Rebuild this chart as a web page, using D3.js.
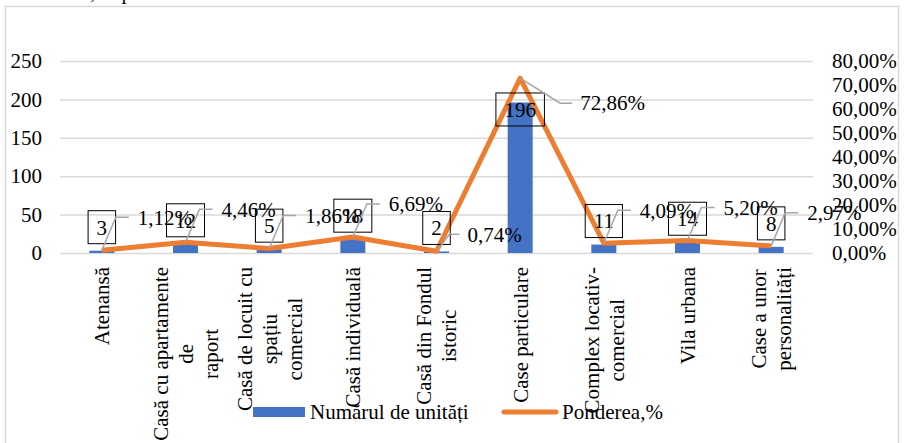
<!DOCTYPE html>
<html>
<head>
<meta charset="utf-8">
<script src="https://cdn.jsdelivr.net/npm/d3@7"></script>
<style>
  html, body { margin: 0; padding: 0; background: #fff; }
  svg { display: block; }
  svg text { font-family: "Liberation Serif", "DejaVu Serif", serif !important; font-size: 21px !important; fill: #000; }
</style>
</head>
<body>
<div id="chart"></div>
<script>
// ******************************** DATA ***************************************
// Category names ("\n" marks the line breaks used on the axis)
var categories = [
  "Atenansă",
  "Casă cu apartamente\nde\nraport",
  "Casă de locuit cu\nspațiu\ncomercial",
  "Casă individuală",
  "Casă din Fondul\nistoric",
  "Case particulare",
  "Complex locativ-\ncomercial",
  "Vila urbana",
  "Case a unor\npersonalități"
];

// Numarul de unitati (bars, left axis)
var unitCounts = [3, 12, 5, 18, 2, 196, 11, 14, 8];

// Ponderea, % (line, right axis)
var shares = [1.12, 4.46, 1.86, 6.69, 0.74, 72.86, 4.09, 5.20, 2.97];

// Tick values
var leftTicks = [0, 50, 100, 150, 200, 250];
var rightTicks = [0, 10, 20, 30, 40, 50, 60, 70, 80];

var seriesNames = ["Numărul de unități", "Ponderea,%"];

// **************************** CANVAS SET UP **********************************
var svgWidth = 904,
    svgHeight = 443;

var plot = {left: 60, right: 813, top: 61, bottom: 253};

var barColor = "#4472C4",
    lineColor = "#ED7D31",
    gridColor = "#D9D9D9",
    leaderColor = "#A6A6A6";

var svg = d3.select("#chart")
  .append("svg")
    .attr("width", svgWidth)
    .attr("height", svgHeight)
    .attr("font-family", "Liberation Serif")
    .attr("font-size", 21);

// Chart frame
svg.append("rect")
  .attr("x", 5.5)
  .attr("y", 6.5)
  .attr("width", 893)
  .attr("height", 460)
  .attr("fill", "none")
  .attr("stroke", gridColor)
  .attr("stroke-width", 1.5);

// Caption cut off above the frame
svg.append("text")
  .attr("x", 90)
  .attr("y", -1)
  .text(", după");

// ******************************** SCALES *************************************
var xScale = d3.scaleBand()
  .domain(d3.range(categories.length))
  .range([plot.left, plot.right]);

var yLeft = d3.scaleLinear()
  .domain([0, 250])
  .range([plot.bottom, plot.top]);

var yRight = d3.scaleLinear()
  .domain([0, 80])
  .range([plot.bottom, plot.top]);

var cx = i => xScale(i) + xScale.bandwidth() / 2;

var fmt = d3.formatLocale({decimal: ",", thousands: ".", grouping: [3], currency: ["", ""]});
var pct = v => fmt.format(".2f")(v) + "%";

// ********************************* AXES **************************************
// Left axis with gridlines
var leftAxis = svg.append("g")
  .attr("transform", `translate(${plot.left}, 0)`)
  .call(d3.axisLeft(yLeft)
    .tickValues(leftTicks)
    .tickSize(-(plot.right - plot.left))
    .tickPadding(18));

leftAxis.attr("font-family", null).attr("font-size", null);
leftAxis.select(".domain").remove();
leftAxis.selectAll(".tick line")
  .attr("stroke", gridColor)
  .attr("stroke-width", 1.5);
leftAxis.selectAll(".tick text").attr("fill", "#000");

// Right axis (percent)
var rightAxis = svg.append("g")
  .attr("transform", `translate(${plot.right}, 0)`)
  .call(d3.axisRight(yRight)
    .tickValues(rightTicks)
    .tickSize(0)
    .tickPadding(19)
    .tickFormat(pct));

rightAxis.attr("font-family", null).attr("font-size", null);
rightAxis.select(".domain").remove();
rightAxis.selectAll(".tick text").attr("fill", "#000");

// ********************************* BARS **************************************
var barWidth = 25;

svg.append("g")
  .selectAll("rect")
  .data(unitCounts)
  .enter()
  .append("rect")
    .attr("x", (d, i) => cx(i) - barWidth / 2)
    .attr("y", d => yLeft(d))
    .attr("width", barWidth)
    .attr("height", d => plot.bottom - yLeft(d))
    .attr("fill", barColor);

// ********************************* LINE **************************************
var line = d3.line()
  .x((d, i) => cx(i))
  .y(d => yRight(d));

svg.append("path")
  .datum(shares)
  .attr("d", line)
  .attr("fill", "none")
  .attr("stroke", lineColor)
  .attr("stroke-width", 5)
  .attr("stroke-linejoin", "round");

// ***************************** BAR LABELS ************************************
var boxHeight = 33;

var barLabels = svg.append("g")
  .selectAll("g")
  .data(unitCounts)
  .enter()
  .append("g");

barLabels.each(function(d, i) {
  var g = d3.select(this);
  // tall bars get the label inside the top end, short ones sit above the bar
  var centerY = d > 100 ? yLeft(d) + 7 : yLeft(d) - 7 - boxHeight / 2;
  var rect = g.append("rect");
  var t = g.append("text")
    .attr("x", cx(i))
    .attr("y", centerY)
    .attr("dy", "0.35em")
    .attr("text-anchor", "middle")
    .text(d);
  var w = t.node().getComputedTextLength() + 17;
  rect
    .attr("x", cx(i) - w / 2)
    .attr("y", centerY - boxHeight / 2)
    .attr("width", w)
    .attr("height", boxHeight)
    .attr("fill", "none")
    .attr("stroke", "#000")
    .attr("stroke-width", 1);
});

// ***************************** LINE LABELS ***********************************
function leaderFor(p) {
  if (p > 50) return {ex: 40, ey: 25, hx: 52, tx: 60};
  if (p < 1) return {ex: 13, ey: -17, hx: 23, tx: 31};
  return {ex: 14, ey: -33, hx: 27, tx: 36};
}

var lineLabels = svg.append("g")
  .selectAll("g")
  .data(shares)
  .enter()
  .append("g");

lineLabels.each(function(d, i) {
  var g = d3.select(this);
  var px = cx(i), py = yRight(d), L = leaderFor(d);
  g.append("polyline")
    .attr("points", [[px, py], [px + L.ex, py + L.ey], [px + L.hx, py + L.ey]].join(" "))
    .attr("fill", "none")
    .attr("stroke", leaderColor)
    .attr("stroke-width", 1.5);
  g.append("text")
    .attr("x", px + L.tx)
    .attr("y", py + L.ey)
    .attr("dy", "0.35em")
    .text(pct(d));
});

// ***************************** X-AXIS LABELS *********************************
var labelTop = 267,
    lineStep = 25;

categories.forEach(function(name, i) {
  var lines = name.split("\n");
  var g = svg.append("g")
    .attr("transform", `translate(${cx(i)}, ${labelTop}) rotate(-90)`);
  var texts = lines.map((s, k) => g.append("text")
    .attr("y", (k - (lines.length - 1) / 2) * lineStep)
    .attr("dy", "0.35em")
    .attr("text-anchor", "middle")
    .text(s));
  var maxLen = d3.max(texts, t => t.node().getComputedTextLength());
  texts.forEach(t => t.attr("x", -maxLen / 2));
});

// ******************************** LEGEND *************************************
var legendY = 412;

svg.append("rect")
  .attr("x", 253)
  .attr("y", legendY - 5)
  .attr("width", 52)
  .attr("height", 10)
  .attr("fill", barColor);

svg.append("text")
  .attr("x", 310)
  .attr("y", legendY)
  .attr("dy", "0.35em")
  .text(seriesNames[0]);

svg.append("line")
  .attr("x1", 504)
  .attr("x2", 556)
  .attr("y1", legendY)
  .attr("y2", legendY)
  .attr("stroke", lineColor)
  .attr("stroke-width", 5)
  .attr("stroke-linecap", "round");

svg.append("text")
  .attr("x", 562)
  .attr("y", legendY)
  .attr("dy", "0.35em")
  .text(seriesNames[1]);
</script>
</body>
</html>
